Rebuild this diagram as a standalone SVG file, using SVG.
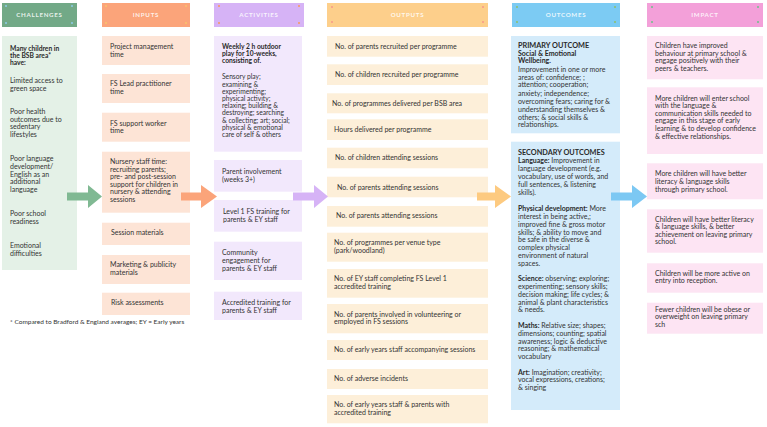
<svg xmlns="http://www.w3.org/2000/svg" width="767" height="427" viewBox="0 0 767 427">
<style>
text{font-family:Lato,"Noto Sans","Liberation Sans",sans-serif;font-size:7px;fill:#333}
.b{font-weight:bold;fill:#2a2a2a}
.s{font-size:6.7px}
.big{font-size:7.3px}
.h{font-size:6.2px;fill:#fff;letter-spacing:0.7px;text-anchor:middle;font-weight:bold;fill-opacity:0.85}
.cb{fill:#e4f1e7}.ib{fill:#fde4d6}.ab{fill:#f2e8fc}.ob{fill:#fdefd9}.ub{fill:#d4ebfa}.pb{fill:#fde4f3}
</style>
<rect width="767" height="427" fill="#fff"/>
<!-- headers -->
<g id="h-challenges"><rect x="2" y="3" width="75" height="24" fill="#72a987"/><g fill="#8ecbe8"><circle cx="6" cy="6" r="1"/><circle cx="72" cy="6" r="1"/><circle cx="6" cy="23" r="1"/><circle cx="72" cy="23" r="1"/></g><text class="h" x="39.5" y="17.3">CHALLENGES</text></g>
<g id="h-inputs"><rect x="102" y="3" width="88" height="24" fill="#fba47a"/><g fill="#f8c46c"><circle cx="106" cy="6" r="1"/><circle cx="186" cy="6" r="1"/><circle cx="106" cy="23" r="1"/><circle cx="186" cy="23" r="1"/></g><text class="h" x="146" y="17.3">INPUTS</text></g>
<g id="h-activities"><rect x="214" y="3" width="90" height="24" fill="#d6b3f6"/><g fill="#f79a5c"><circle cx="219" cy="6" r="1"/><circle cx="299" cy="6" r="1"/><circle cx="219" cy="23" r="1"/><circle cx="299" cy="23" r="1"/></g><text class="h" x="259" y="17.3">ACTIVITIES</text></g>
<g id="h-outputs"><rect x="327" y="3" width="161" height="24" fill="#fdcf8b"/><g fill="#f7988a"><circle cx="332" cy="7" r="1"/><circle cx="483" cy="7" r="1"/><circle cx="332" cy="22" r="1"/><circle cx="483" cy="22" r="1"/></g><text class="h" x="407.5" y="17.3">OUTPUTS</text></g>
<g id="h-outcomes"><rect x="512" y="3" width="108" height="24" fill="#7ccbf3"/><g fill="#8fbf6a"><circle cx="517" cy="7" r="1"/><circle cx="615" cy="7" r="1"/><circle cx="517" cy="22" r="1"/><circle cx="615" cy="22" r="1"/></g><text class="h" x="566" y="17.3">OUTCOMES</text></g>
<g id="h-impact"><rect x="647" y="3" width="116" height="24" fill="#f3a0d9"/><g fill="#6fc08a"><circle cx="652" cy="7" r="1"/><circle cx="758" cy="7" r="1"/><circle cx="652" cy="22" r="1"/><circle cx="758" cy="22" r="1"/></g><text class="h" x="705" y="17.3">IMPACT</text></g>

<!-- challenges -->
<g id="challenges"><rect class="cb" x="2" y="36" width="75" height="234"/>
<text class="b s" x="10" y="50.6">Many children in</text><text class="b s" x="10" y="58">the BSB area*</text><text class="b s" x="10" y="65.4">have:</text>
<text x="10" y="83">Limited access to</text><text x="10" y="90.8">green space</text>
<text x="10" y="114">Poor health</text><text x="10" y="121.6">outcomes due to</text><text x="10" y="129.2">sedentary</text><text x="10" y="136.8">lifestyles</text>
<text x="10" y="161.3">Poor language</text><text x="10" y="169">development/</text><text x="10" y="176.7">English as an</text><text x="10" y="184.4">additional</text><text x="10" y="192.1">language</text>
<text x="10" y="216.3">Poor school</text><text x="10" y="224">readiness</text>
<text x="10" y="248.3">Emotional</text><text x="10" y="256">difficulties</text>
</g>

<!-- inputs -->
<g id="in-1"><rect class="ib" x="102" y="36" width="88" height="29"/><text x="110" y="49">Project management</text><text x="110" y="56.6">time</text></g>
<g id="in-2"><rect class="ib" x="102" y="74" width="88" height="29"/><text x="110" y="86.3">FS Lead practitioner</text><text x="110" y="94">time</text></g>
<g id="in-3"><rect class="ib" x="102" y="112.7" width="88" height="29"/><text x="110" y="125.6">FS support worker</text><text x="110" y="133.2">time</text></g>
<g id="in-4"><rect class="ib" x="102" y="151.7" width="88" height="61"/><text x="110" y="164">Nursery staff time:</text><text x="110" y="171.6">recruiting parents;</text><text x="110" y="179.2">pre- and post-session</text><text x="110" y="186.8">support for children in</text><text x="110" y="194.4">nursery &amp; attending</text><text x="110" y="202">sessions</text></g>
<g id="in-5"><rect class="ib" x="102" y="222.7" width="88" height="22.3"/><text x="111" y="235">Session materials</text></g>
<g id="in-6"><rect class="ib" x="102" y="255" width="88" height="29"/><text x="110" y="267.3">Marketing &amp; publicity</text><text x="110" y="275">materials</text></g>
<g id="in-7"><rect class="ib" x="102" y="292.7" width="88" height="22.3"/><text x="111" y="304.6">Risk assessments</text></g>

<!-- activities -->
<g id="act-1"><rect class="ab" x="214" y="36" width="88" height="115.7"/>
<text class="b s" x="222" y="48.6">Weekly 2 h outdoor</text><text class="b s" x="222" y="56">play for 10-weeks,</text><text class="b s" x="222" y="63.4">consisting of.</text>
<text class="s" x="222" y="79.4">Sensory play;</text><text class="s" x="222" y="86.6">examining &amp;</text><text class="s" x="222" y="93.8">experimenting;</text><text class="s" x="222" y="101">physical activity;</text><text class="s" x="222" y="108.2">relaxing; building &amp;</text><text class="s" x="222" y="115.4">destroying; searching</text><text class="s" x="222" y="122.6">&amp; collecting; art; social;</text><text class="s" x="222" y="129.8">physical &amp; emotional</text><text class="s" x="222" y="137">care of self &amp; others</text></g>
<g id="act-2"><rect class="ab" x="214" y="160" width="88" height="31.7"/><text x="222" y="174">Parent involvement</text><text x="222" y="181.6">(weeks 3+)</text></g>
<g id="act-3"><rect class="ab" x="214" y="200" width="88" height="31.7"/><text x="223" y="214">Level 1 FS training for</text><text x="223" y="221.6">parents &amp; EY staff</text></g>
<g id="act-4"><rect class="ab" x="214" y="241.7" width="88" height="38.3"/><text x="222" y="255.4">Community</text><text x="222" y="263">engagement for</text><text x="222" y="270.6">parents &amp; EY staff</text></g>
<g id="act-5"><rect class="ab" x="214" y="291.7" width="88" height="28.3"/><text x="222" y="305">Accredited training for</text><text x="222" y="312.6">parents &amp; EY staff</text></g>

<!-- outputs -->
<g id="out-1"><rect class="ob" x="327" y="36" width="161" height="20.7"/><text x="335" y="49">No. of parents recruited per programme</text></g>
<g id="out-2"><rect class="ob" x="327" y="64.3" width="161" height="20.7"/><text x="335" y="77.3">No. of children recruited per programme</text></g>
<g id="out-3"><rect class="ob" x="327" y="93.3" width="161" height="20"/><text x="332" y="105.6">No. of programmes delivered per BSB area</text></g>
<g id="out-4"><rect class="ob" x="327" y="119.3" width="161" height="20.7"/><text x="334" y="131.6">Hours delivered per programme</text></g>
<g id="out-5"><rect class="ob" x="327" y="147.7" width="161" height="20.6"/><text x="335" y="160">No. of children attending sessions</text></g>
<g id="out-6"><rect class="ob" x="327" y="176.7" width="161" height="20.6"/><text x="337" y="190">No. of parents attending sessions</text></g>
<g id="out-7"><rect class="ob" x="327" y="206" width="161" height="20.7"/><text x="336" y="218.3">No. of parents attending sessions</text></g>
<g id="out-8"><rect class="ob" x="327" y="232.7" width="161" height="29"/><text x="334" y="245">No. of programmes per venue type</text><text x="334" y="253">(park/woodland)</text></g>
<g id="out-9"><rect class="ob" x="327" y="269" width="161" height="28.7"/><text x="334" y="281.3">No. of EY staff completing FS Level 1</text><text x="334" y="289">accredited training</text></g>
<g id="out-10"><rect class="ob" x="327" y="304" width="161" height="29.3"/><text x="334" y="316.6">No. of parents involved in volunteering  or</text><text x="334" y="324.2">employed in FS sessions</text></g>
<g id="out-11"><rect class="ob" x="327" y="340" width="161" height="20"/><text x="334" y="352.3">No. of early years staff accompanying sessions</text></g>
<g id="out-12"><rect class="ob" x="327" y="369" width="161" height="20"/><text x="334" y="381.3">No. of adverse incidents</text></g>
<g id="out-13"><rect class="ob" x="327" y="395" width="161" height="28.3"/><text x="334" y="406.6">No. of early years staff &amp; parents with</text><text x="334" y="414.6">accredited training</text></g>

<!-- outcomes -->
<g id="outcome-primary"><rect class="ub" x="511" y="36" width="109" height="97.3"/>
<text class="b big" x="518" y="47.6">PRIMARY OUTCOME</text><text class="b" x="518" y="55.6">Social &amp; Emotional</text><text class="b" x="518" y="63.3">Wellbeing.</text>
<text x="518" y="71.6">Improvement in one or more</text><text x="518" y="79.6">areas of: confidence; ;</text><text x="518" y="87.4">attention; cooperation;</text><text x="518" y="95.6">anxiety; independence;</text><text x="518" y="103.6">overcoming fears; caring for &amp;</text><text x="518" y="111.6">understanding themselves &amp;</text><text x="518" y="119.6">others; &amp; social skills &amp;</text><text x="518" y="127.4">relationships.</text></g>
<g id="outcome-secondary"><rect class="ub" x="511" y="141.7" width="109" height="268.3"/>
<text class="b big" x="518" y="155.3">SECONDARY OUTCOMES</text>
<text x="518" y="163"><tspan class="b">Language:</tspan> Improvement in</text><text x="518" y="170.8">language development (e.g.</text><text x="518" y="178.8">vocabulary, use of words, and</text><text x="518" y="186.6">full sentences, &amp; listening</text><text x="518" y="194.6">skills).</text>
<text x="518" y="210.6"><tspan class="b">Physical development:</tspan> More</text><text x="518" y="218.6">interest in being active,;</text><text x="518" y="226.6">improved fine &amp; gross motor</text><text x="518" y="234.6">skills; &amp; ability to move and</text><text x="518" y="242.4">be safe in the diverse &amp;</text><text x="518" y="250.2">complex physical</text><text x="518" y="258">environment of natural</text><text x="518" y="265.8">spaces.</text>
<text x="518" y="281.3"><tspan class="b">Science:</tspan> observing; exploring;</text><text x="518" y="289">experimenting; sensory skills;</text><text x="518" y="296.8">decision making; life cycles; &amp;</text><text x="518" y="304.6">animal &amp; plant characteristics</text><text x="518" y="312.4">&amp; needs.</text>
<text x="518" y="328"><tspan class="b">Maths:</tspan> Relative size; shapes;</text><text x="518" y="335.8">dimensions; counting; spatial</text><text x="518" y="343.6">awareness; logic &amp; deductive</text><text x="518" y="351.4">reasoning; &amp; mathematical</text><text x="518" y="359.2">vocabulary</text>
<text x="518" y="374.6"><tspan class="b">Art:</tspan> Imagination; creativity;</text><text x="518" y="382.4">vocal expressions, creations;</text><text x="518" y="390.2">&amp; singing</text></g>

<!-- impact -->
<g id="imp-1"><rect class="pb" x="647" y="36" width="116" height="43.3"/><text x="655" y="48">Children have improved</text><text x="655" y="55.6">behaviour at primary school &amp;</text><text x="655" y="63.2">engage positively with their</text><text x="655" y="70.8">peers &amp; teachers.</text></g>
<g id="imp-2"><rect class="pb" x="647" y="87.3" width="116" height="66.7"/><text x="655" y="100.6">More children will enter school</text><text x="655" y="108.2">with the language &amp;</text><text x="655" y="115.8">communication skills needed to</text><text x="655" y="123.4">engage in this stage of early</text><text x="655" y="131">learning &amp; to develop confidence</text><text x="655" y="138.6">&amp; effective relationships.</text></g>
<g id="imp-3"><rect class="pb" x="647" y="163.3" width="116" height="36"/><text x="655" y="176.3">More children will have better</text><text x="655" y="183.9">literacy &amp; language skills</text><text x="655" y="191.5">through primary school.</text></g>
<g id="imp-4"><rect class="pb" x="647" y="209.3" width="116" height="43.4"/><text x="655" y="221.6">Children will have better literacy</text><text x="655" y="229.2">&amp; language skills, &amp; better</text><text x="655" y="236.8">achievement on leaving primary</text><text x="655" y="244.4">school.</text></g>
<g id="imp-5"><rect class="pb" x="647" y="263.3" width="116" height="29.4"/><text x="655" y="275.6">Children will be more active on</text><text x="655" y="283.2">entry into reception.</text></g>
<g id="imp-6"><rect class="pb" x="647" y="302.7" width="116" height="31"/><text x="655" y="311.8">Fewer children will be obese or</text><text x="655" y="319.4">overweight on leaving primary</text><text x="655" y="327">sch</text></g>

<!-- connectors -->
<g id="connectors">
<path d="M67 192.5H88V185L102 196.5L88 208V200.5H67Z" fill="#80b993"/>
<path d="M181 192.5H201V185L217 196.5L201 208V200.5H181Z" fill="#fba47a"/>
<path d="M293 192.5H314V185L328 196.5L314 208V200.5H293Z" fill="#d6b3f6"/>
<path d="M477 192.5H495V185L511 196.5L495 208V200.5H477Z" fill="#fdca80"/>
<path d="M611 192.5H632V185L647 196.5L632 208V200.5H611Z" fill="#7cc8f3"/>
</g>

<text x="10" y="324" style="font-size:6.5px">* Compared to Bradford &amp; England averages;   EY = Early years</text>
</svg>
